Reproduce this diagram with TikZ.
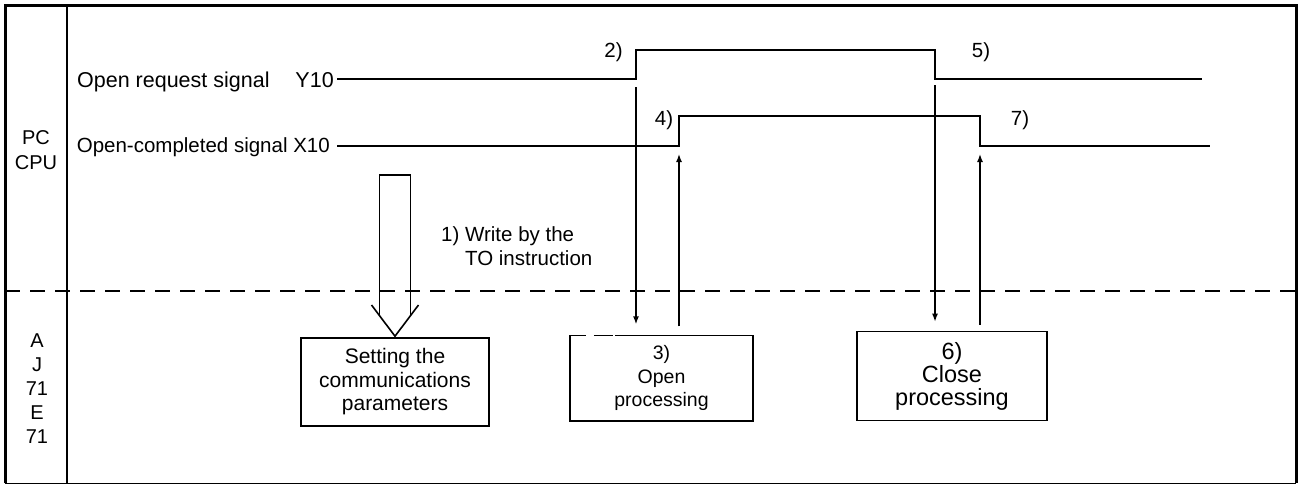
\documentclass[tikz,border=0pt]{standalone}
\usepackage{fontspec}
\setmainfont{Liberation Sans}
\usetikzlibrary{arrows.meta}
\begin{document}
\begin{tikzpicture}[x=1pt,y=-1pt,
  lbl/.style={font=\fontsize{20.5}{24}\selectfont, inner sep=0pt},
  boxline/.style={line width=1.6pt},
  procbox/.style={draw, boxline, align=center, inner sep=0pt},
  sig/.style={line width=2.2pt, line join=miter},
  thinarrow/.style={line width=1.4pt, -{Latex[length=8pt,width=6pt]}},
  framethick/.style={line width=3pt},
  hollow/.style={line width=1.6pt, line join=miter}]
\useasboundingbox (0,0) rectangle (1299,485);

% frame
\draw[framethick] (5,483) -- (5,5) -- (1296,5) -- (1296,483);
\draw[line width=1pt] (5,483) -- (1296,483);
\draw[line width=2pt] (66.5,5) -- (66.5,483);
\draw[line width=2pt, dash pattern=on 15pt off 10pt] (5,291) -- (1296,291);

% side labels
\node[lbl, font=\fontsize{20}{25}\selectfont, align=center] (pccpu) at (36,150) {PC\\CPU};
\node[lbl, font=\fontsize{20}{24}\selectfont, align=center] (ajle) at (37,389) {A\\J\\71\\E\\71};

% signal labels
\node[lbl, font=\fontsize{21.5}{24}\selectfont, anchor=base east] (lblY) at (334,87.5) {Open request signal\hspace{20pt} Y10};
\node[lbl, anchor=base east] (lblX) at (330,152) {Open-completed signal X10};

% waveforms
\coordinate (ystart) at (337,79);
\coordinate (yrise) at (636,79);
\coordinate (yfall) at (935,79);
\coordinate (yend) at (1202,79);
\coordinate (xstart) at (337,146);
\coordinate (xrise) at (679,146);
\coordinate (xfall) at (980,146);
\coordinate (xend) at (1210,146);
\draw[sig] (ystart) -- (yrise) -- (636,50) -- (935,50) -- (yfall) -- (yend);
\draw[sig] (xstart) -- (xrise) -- (679,116) -- (980,116) -- (xfall) -- (xend);

% step labels
\node[lbl] (n2) at (613.5,52.5) {2)};
\node[lbl] (n4) at (664,120) {4)};
\node[lbl] (n5) at (981,52.5) {5)};
\node[lbl] (n7) at (1020,120) {7)};

% boxes
\node[procbox, minimum width=188pt, minimum height=88pt,
      font=\fontsize{21}{23.5}\selectfont] (box1) at (395,382)
  {Setting the\\communications\\parameters};
\node[align=center, inner sep=0pt, minimum width=183pt, minimum height=85pt,
      font=\fontsize{19.5}{23.5}\selectfont] (box3) at (661.5,378)
  {3)\\Open\\processing};
\node[procbox, minimum width=190pt, minimum height=89pt,
      font=\fontsize{23.5}{23}\selectfont] (box6) at (952,376)
  {6)\\Close\\processing};
\draw[boxline, line cap=butt] ([xshift=45pt]box3.north west) -- (box3.north east) -- (box3.south east)
  -- (box3.south west) -- (box3.north west) -- ([xshift=16pt]box3.north west);
\draw[boxline, line cap=butt] ([xshift=24pt]box3.north west) -- ([xshift=43pt]box3.north west);

% hollow arrow (write by TO instruction)
\coordinate (wtop) at (395,175);
\draw[hollow] (379.5,316) -- (379.5,175) -- (410.5,175) -- (410.5,316);
\draw[hollow] (371.5,305) -- ([yshift=1pt]box1.north) -- (418.5,305);
\node[lbl, anchor=west, align=left] (wlbl) at (441,246)
  {1) Write by the\\\hphantom{1) }TO instruction};

% thin arrows
\draw[thinarrow] ([yshift=-8pt]yrise) -- ([yshift=11pt]box3.north -| yrise);
\draw[thinarrow] ([yshift=9pt]box3.north -| xrise) -- ([yshift=-8pt]xrise);
\draw[thinarrow] ([yshift=-6pt]yfall) -- ([yshift=9pt]box6.north -| yfall);
\draw[thinarrow] ([yshift=6pt]box6.north -| xfall) -- ([yshift=-8pt]xfall);
\end{tikzpicture}
\end{document}
